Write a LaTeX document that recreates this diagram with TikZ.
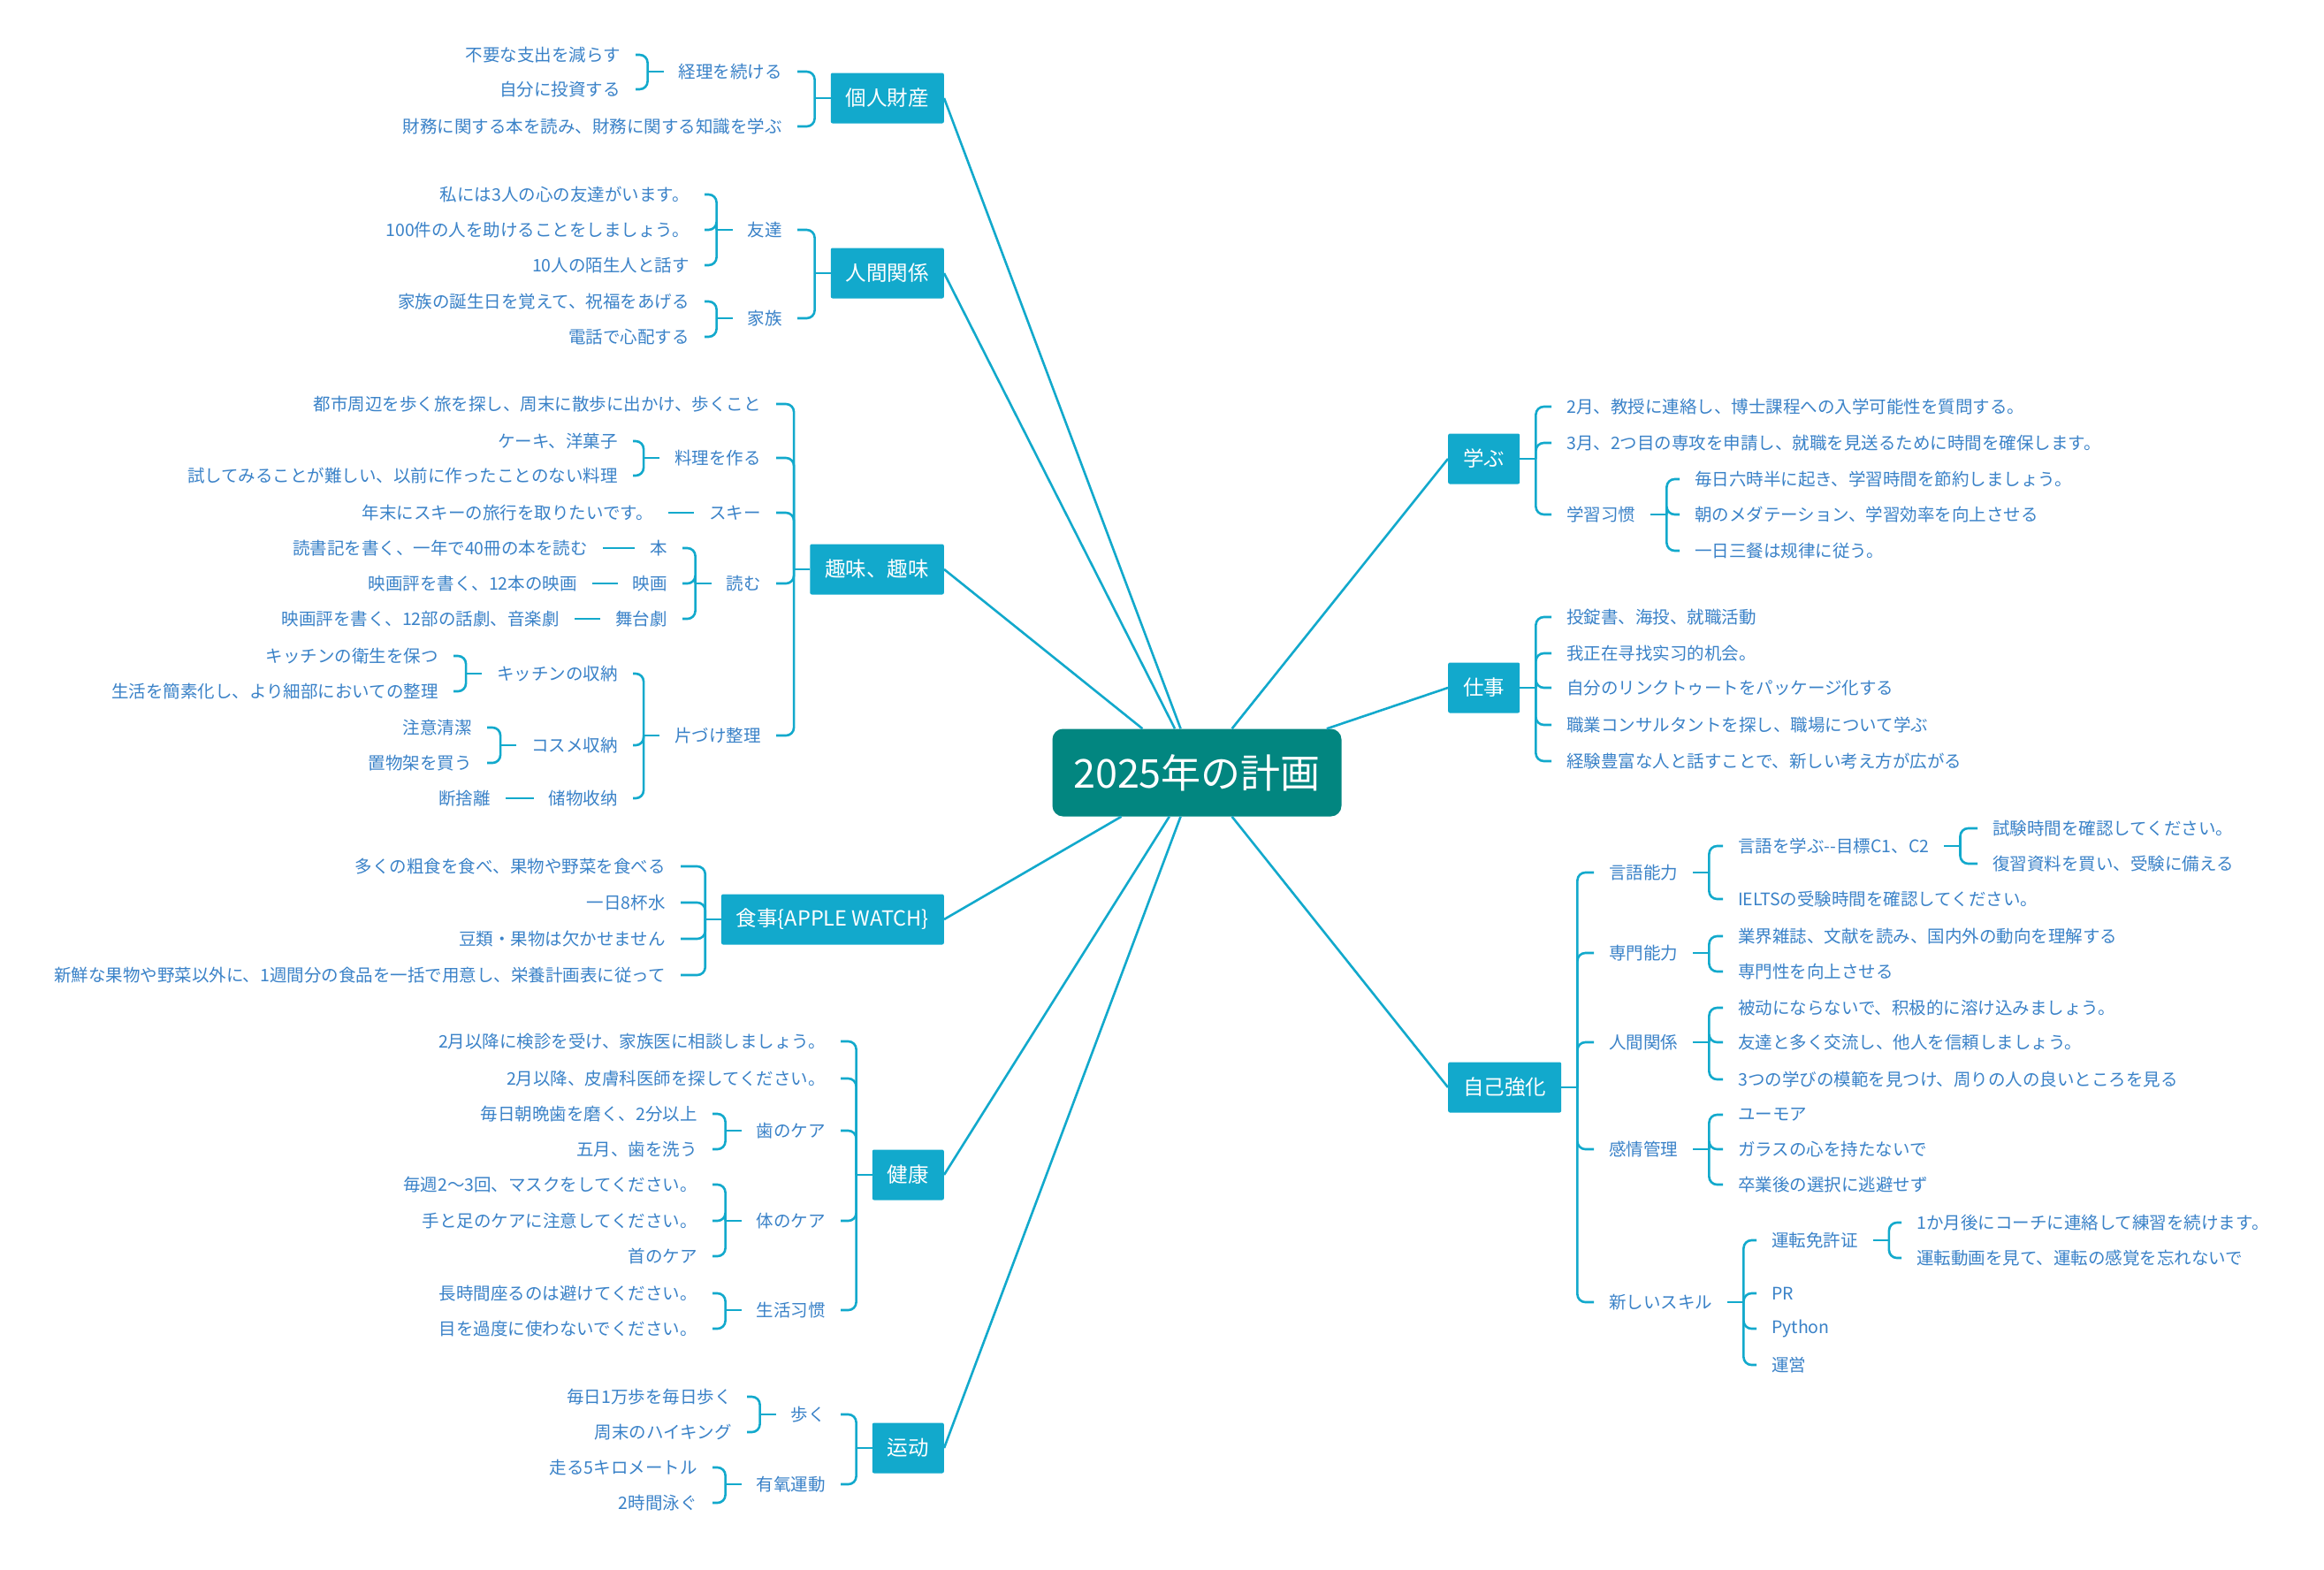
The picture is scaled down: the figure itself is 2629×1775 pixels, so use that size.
\documentclass[tikz,border=0pt]{standalone}
\usepackage{fontspec}
\setmainfont{Noto Sans CJK JP}
\usepackage{xcolor}
\definecolor{mmcyan}{RGB}{18,169,204}
\definecolor{mmteal}{RGB}{2,134,128}
\definecolor{mmtext}{RGB}{58,130,200}
\usetikzlibrary{positioning}

\begin{document}
\begin{tikzpicture}[x=1pt, y=-1pt,
    plan/.style={rectangle, rounded corners=12pt, fill=mmteal, text=white,
                 minimum width=327pt, minimum height=99pt, font=\fontsize{45}{54}\selectfont},
    topic/.style={rectangle, rounded corners=2pt, fill=mmcyan, text=white,
                  minimum height=57pt, inner xsep=17pt, font=\fontsize{23.5}{28}\selectfont},
    item/.style={text=mmtext, inner xsep=17pt, inner ysep=2pt, font=\fontsize{19.5}{23}\selectfont},
    litem/.style={item, anchor=east},
    ritem/.style={item, anchor=west},
    conn/.style={line width=2.6pt, mmcyan},
    brk/.style={conn, rounded corners=9pt}
  ]
    \fill[white] (0,0) rectangle (2629,1775);
    \useasboundingbox (0,0) rectangle (2629,1775);

    % Centre
    \node[plan] (plan) at (1354,874) {2025年の計画};

    % 個人財産
    \node[topic, anchor=east] (kojin) at (1068,111) {個人財産};
    \node[litem] (keiri)  at (902,81)  {経理を続ける};
    \node[litem] (zaimu)  at (902,143) {財務に関する本を読み、財務に関する知識を学ぶ};
    \node[litem] (fuyou)  at (719,62)  {不要な支出を減らす};
    \node[litem] (toushi) at (719,101) {自分に投資する};

    % 人間関係
    \node[topic, anchor=east] (ningen) at (1068,309) {人間関係};
    \node[litem] (tomo)   at (902,260) {友達};
    \node[litem] (kazoku) at (902,360) {家族};
    \node[litem] (tomo1)  at (797,220) {私には3人の心の友達がいます。};
    \node[litem] (tomo2)  at (797,260) {100件の人を助けることをしましょう。};
    \node[litem] (tomo3)  at (797,300) {10人の陌生人と話す};
    \node[litem] (kazo1)  at (797,341) {家族の誕生日を覚えて、祝福をあげる};
    \node[litem] (kazo2)  at (797,381) {電話で心配する};

    % 趣味、趣味
    \node[topic, anchor=east] (shumi) at (1068,644) {趣味、趣味};
    \node[litem] (toshi)    at (878,457) {都市周辺を歩く旅を探し、周末に散歩に出かけ、歩くこと};
    \node[litem] (ryouri)   at (878,518) {料理を作る};
    \node[litem] (ski)      at (878,580) {スキー};
    \node[litem] (yomu)     at (878,660) {読む};
    \node[litem] (katazuke) at (878,832) {片づけ整理};
    \node[litem] (cake)     at (716,499) {ケーキ、洋菓子};
    \node[litem] (shitemiru) at (716,538) {試してみることが難しい、以前に作ったことのない料理};
    \node[litem] (nenmatsu) at (756,580) {年末にスキーの旅行を取りたいです。};
    \node[litem] (hon)      at (772,620) {本};
    \node[litem] (eiga)     at (772,660) {映画};
    \node[litem] (butai)    at (772,700) {舞台劇};
    \node[litem] (hon1)     at (682,620) {読書記を書く、一年で40冊の本を読む};
    \node[litem] (eiga1)    at (670,660) {映画評を書く、12本の映画};
    \node[litem] (butai1)   at (650,700) {映画評を書く、12部の話劇、音楽劇};
    \node[litem] (kitchen)  at (716,762) {キッチンの収納};
    \node[litem] (cosme)    at (716,843) {コスメ収納};
    \node[litem] (chozou)   at (716,903) {储物收纳};
    \node[litem] (eisei)    at (513,742) {キッチンの衛生を保つ};
    \node[litem] (kanso)    at (513,782) {生活を簡素化し、より細部においての整理};
    \node[litem] (chui)     at (551,823) {注意清潔};
    \node[litem] (okimono)  at (551,863) {置物架を買う};
    \node[litem] (danshari) at (572,903) {断捨離};

    % 食事
    \node[topic, anchor=east] (shokuji) at (1068,1040) {食事\{APPLE WATCH\}};
    \node[litem] (shoku1) at (770,980)  {多くの粗食を食べ、果物や野菜を食べる};
    \node[litem] (shoku2) at (770,1021) {一日8杯水};
    \node[litem] (shoku3) at (770,1062) {豆類・果物は欠かせません};
    \node[litem] (shoku4) at (770,1103) {新鮮な果物や野菜以外に、1週間分の食品を一括で用意し、栄養計画表に従って};

    % 健康
    \node[topic, anchor=east] (kenkou) at (1068,1329) {健康};
    \node[litem] (kenshin)  at (951,1178) {2月以降に検診を受け、家族医に相談しましょう。};
    \node[litem] (hifu)     at (951,1220) {2月以降、皮膚科医師を探してください。};
    \node[litem] (ha)       at (951,1279) {歯のケア};
    \node[litem] (karada)   at (951,1381) {体のケア};
    \node[litem] (seikatsu) at (951,1482) {生活习惯};
    \node[litem] (ha1)   at (806,1260) {毎日朝晩歯を磨く、2分以上};
    \node[litem] (ha2)   at (806,1300) {五月、歯を洗う};
    \node[litem] (kara1) at (806,1340) {毎週2～3回、マスクをしてください。};
    \node[litem] (kara2) at (806,1381) {手と足のケアに注意してください。};
    \node[litem] (kara3) at (806,1421) {首のケア};
    \node[litem] (sei1)  at (806,1463) {長時間座るのは避けてください。};
    \node[litem] (sei2)  at (806,1503) {目を過度に使わないでください。};

    % 运动
    \node[topic, anchor=east] (undou) at (1068,1638) {运动};
    \node[litem] (aruku)    at (951,1600) {歩く};
    \node[litem] (yuusanso) at (951,1679) {有氧運動};
    \node[litem] (aru1) at (845,1580) {毎日1万歩を毎日歩く};
    \node[litem] (aru2) at (845,1620) {周末のハイキング};
    \node[litem] (yu1)  at (806,1660) {走る5キロメートル};
    \node[litem] (yu2)  at (806,1700) {2時間泳ぐ};

    % 学ぶ
    \node[topic, anchor=west] (manabu) at (1638,519) {学ぶ};
    \node[ritem] (m1)      at (1755,460) {2月、教授に連絡し、博士課程への入学可能性を質問する。};
    \node[ritem] (m2)      at (1755,501) {3月、2つ目の専攻を申請し、就職を見送るために時間を確保します。};
    \node[ritem] (shuukan) at (1755,582) {学習习惯};
    \node[ritem] (sh1) at (1900,542) {毎日六時半に起き、学習時間を節約しましょう。};
    \node[ritem] (sh2) at (1900,582) {朝のメダテーション、学習効率を向上させる};
    \node[ritem] (sh3) at (1900,623) {一日三餐は规律に従う。};

    % 仕事
    \node[topic, anchor=west] (shigoto) at (1638,778) {仕事};
    \node[ritem] (s1) at (1755,698) {投錠書、海投、就職活動};
    \node[ritem] (s2) at (1755,739) {我正在寻找实习的机会。};
    \node[ritem] (s3) at (1755,778) {自分のリンクトゥートをパッケージ化する};
    \node[ritem] (s4) at (1755,820) {職業コンサルタントを探し、職場について学ぶ};
    \node[ritem] (s5) at (1755,861) {経験豊富な人と話すことで、新しい考え方が広がる};

    % 自己強化
    \node[topic, anchor=west] (jiko) at (1638,1230) {自己強化};
    \node[ritem] (gengo)  at (1803,987)  {言語能力};
    \node[ritem] (senmon) at (1803,1078) {専門能力};
    \node[ritem] (jinkan) at (1803,1179) {人間関係};
    \node[ritem] (kanjou) at (1803,1300) {感情管理};
    \node[ritem] (skill)  at (1803,1473) {新しいスキル};
    \node[ritem] (gen1)  at (1949,957)  {言語を学ぶ-{}-目標C1、C2};
    \node[ritem] (gen2)  at (1949,1017) {IELTSの受験時間を確認してください。};
    \node[ritem] (gen11) at (2237,937)  {試験時間を確認してください。};
    \node[ritem] (gen12) at (2237,977)  {復習資料を買い、受験に備える};
    \node[ritem] (sen1)  at (1949,1059) {業界雑誌、文献を読み、国内外の動向を理解する};
    \node[ritem] (sen2)  at (1949,1099) {専門性を向上させる};
    \node[ritem] (jin1)  at (1949,1140) {被动にならないで、积极的に溶け込みましょう。};
    \node[ritem] (jin2)  at (1949,1179) {友達と多く交流し、他人を信頼しましょう。};
    \node[ritem] (jin3)  at (1949,1221) {3つの学びの模範を見つけ、周りの人の良いところを見る};
    \node[ritem] (kan1)  at (1949,1261) {ユーモア};
    \node[ritem] (kan2)  at (1949,1300) {ガラスの心を持たないで};
    \node[ritem] (kan3)  at (1949,1340) {卒業後の選択に逃避せず};
    \node[ritem] (unten)  at (1987,1403) {運転免許证};
    \node[ritem] (pr)     at (1987,1463) {PR};
    \node[ritem] (python) at (1987,1503) {Python};
    \node[ritem] (unei)   at (1987,1544) {運営};
    \node[ritem] (un1) at (2151,1383) {1か月後にコーチに連絡して練習を続けます。};
    \node[ritem] (un2) at (2151,1423) {運転動画を見て、運転の感覚を忘れないで};

    % Connections to the centre
    \foreach \b in {kojin,ningen,shumi,shokuji,kenkou,undou}
      \draw[conn] (\b.east) -- (plan);
    \foreach \b in {manabu,shigoto,jiko}
      \draw[conn] (\b.west) -- (plan);

    % Left brackets
    \foreach \p in {kojin,keiri,ningen,tomo,kazoku,shumi,ryouri,yomu,katazuke,kitchen,cosme,
                    shokuji,kenkou,ha,karada,seikatsu,undou,aruku,yuusanso}
      \draw[conn] (\p.west) -- ++(-18,0);
    \foreach \p/\c in {kojin/keiri,kojin/zaimu,keiri/fuyou,keiri/toushi,
                       ningen/tomo,ningen/kazoku,tomo/tomo1,tomo/tomo2,tomo/tomo3,kazoku/kazo1,kazoku/kazo2,
                       shumi/toshi,shumi/ryouri,shumi/ski,shumi/yomu,shumi/katazuke,
                       ryouri/cake,ryouri/shitemiru,yomu/hon,yomu/eiga,yomu/butai,
                       katazuke/kitchen,katazuke/cosme,katazuke/chozou,
                       kitchen/eisei,kitchen/kanso,cosme/chui,cosme/okimono,
                       shokuji/shoku1,shokuji/shoku2,shokuji/shoku3,shokuji/shoku4,
                       kenkou/kenshin,kenkou/hifu,kenkou/ha,kenkou/karada,kenkou/seikatsu,
                       ha/ha1,ha/ha2,karada/kara1,karada/kara2,karada/kara3,seikatsu/sei1,seikatsu/sei2,
                       undou/aruku,undou/yuusanso,aruku/aru1,aruku/aru2,yuusanso/yu1,yuusanso/yu2}
      \draw[brk] ([xshift=-18pt]\p.west) |- (\c.east);
    \foreach \p/\c in {ski/nenmatsu,hon/hon1,eiga/eiga1,butai/butai1,chozou/danshari}
      \draw[conn] (\p.west) -- (\c.east);

    % Right brackets
    \foreach \p in {manabu,shuukan,shigoto,jiko,gengo,gen1,senmon,jinkan,kanjou,skill,unten}
      \draw[conn] (\p.east) -- ++(18,0);
    \foreach \p/\c in {manabu/m1,manabu/m2,manabu/shuukan,shuukan/sh1,shuukan/sh2,shuukan/sh3,
                       shigoto/s1,shigoto/s2,shigoto/s3,shigoto/s4,shigoto/s5,
                       jiko/gengo,jiko/senmon,jiko/jinkan,jiko/kanjou,jiko/skill,
                       gengo/gen1,gengo/gen2,gen1/gen11,gen1/gen12,senmon/sen1,senmon/sen2,
                       jinkan/jin1,jinkan/jin2,jinkan/jin3,kanjou/kan1,kanjou/kan2,kanjou/kan3,
                       skill/unten,skill/pr,skill/python,skill/unei,unten/un1,unten/un2}
      \draw[brk] ([xshift=18pt]\p.east) |- (\c.west);
  \end{tikzpicture}
\end{document}
